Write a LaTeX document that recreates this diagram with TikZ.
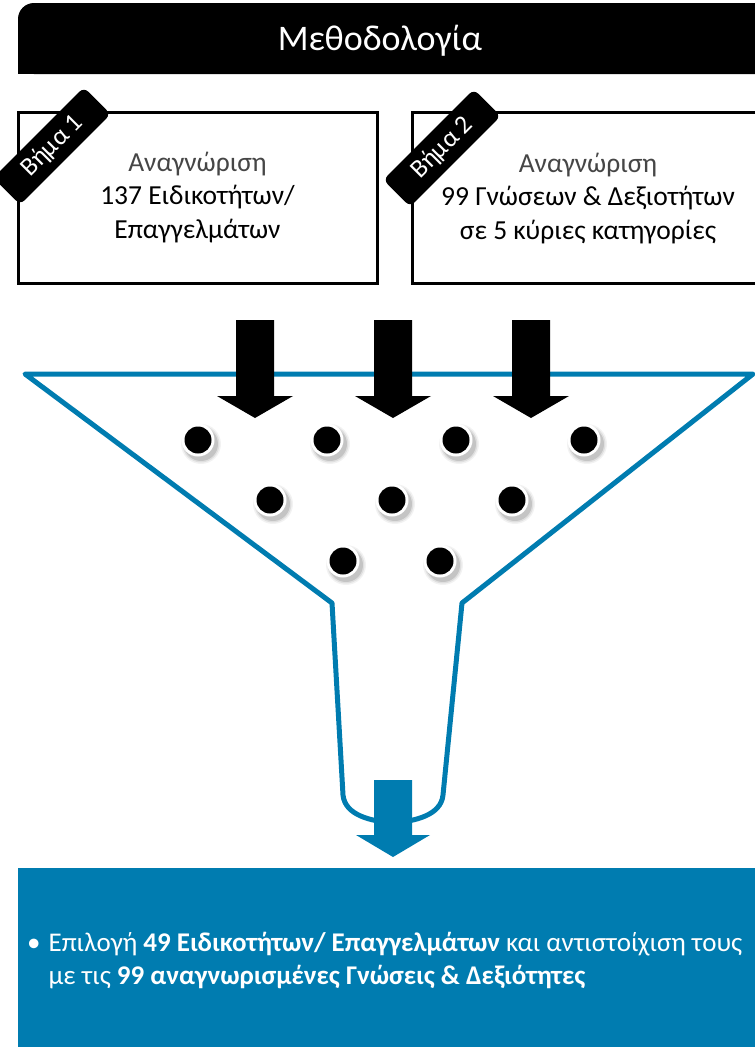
\documentclass[tikz,border=0pt]{standalone}
\usepackage{fontspec}
\setmainfont{Carlito}
\definecolor{funnelblue}{RGB}{0,124,176}
\definecolor{softgray}{RGB}{70,70,70}
\tikzset{
  stepbox/.style={draw=black, line width=3pt, minimum width=359pt, minimum height=171pt, inner sep=0pt},
  steptext/.style={align=center, font=\fontsize{27.5}{33.5}\selectfont, text=black, inner sep=0pt},
  steptag/.style={fill=black, rounded corners=6pt, text=white, font=\fontsize{26}{26}\selectfont, rotate=45, minimum width=128pt, minimum height=38pt, inner sep=0pt},
  downarrow/.style={fill=black},
  funnelline/.style={draw=funnelblue, line width=5pt, line join=round},
}
\newcommand{\funneldot}[2]{%
  \foreach \rr/\op in {20/0.05,18.5/0.08,17/0.12}{\fill[black,opacity=\op] (#1+3,#2+4) circle[radius=\rr];}
  \fill[white] (#1,#2) circle[radius=16.5];
  \fill[black] (#1,#2) circle[radius=13.5];
}
\begin{document}
\begin{tikzpicture}[x=1pt,y=-1pt]
\useasboundingbox (0,0) rectangle (755,1047);
\clip (0,0) rectangle (755,1047);
% header
\fill[black, rounded corners=16pt] (18,3) rectangle (800,74);
\fill[black] (18,40) rectangle (60,74);
\node[text=white, font=\fontsize{36}{40}\selectfont] (title) at (380,41) {Μεθοδολογία};
% step boxes
\node[stepbox, steptext] (box1) at (197.5,197.5) {{\color{softgray}Αναγνώριση}\\137 Ειδικοτήτων/\\Επαγγελμάτων};
\draw[black, line width=3pt] (412,112) rectangle (800,283);
\node[steptext] (box2) at (588,198.5) {{\color{softgray}Αναγνώριση}\\99 Γνώσεων \& Δεξιοτήτων\\σε 5 κύριες κατηγορίες};
\node[steptag] (tag1) at (52,146) {Βήμα 1};
\node[steptag] (tag2) at (442,148) {Βήμα 2};
% funnel
\draw[funnelline] (25,374) -- (753,374) -- (462,603) -- (443,795)
   .. controls (441,815) and (416,821) .. (393,823)
   .. controls (370,821) and (345,815) .. (343,795) -- (332,603) -- cycle;
% black arrows
\foreach \cx in {255,393,531}{
  \fill[downarrow] (\cx-19,320) -- (\cx+19,320) -- (\cx+19,396) -- (\cx+38,396) -- (\cx,418) -- (\cx-38,396) -- (\cx-19,396) -- cycle;
}
% dots
\funneldot{198}{440}\funneldot{327}{440}\funneldot{456}{440}\funneldot{584}{440}
\funneldot{270}{500}\funneldot{392}{500}\funneldot{512}{500}
\funneldot{343}{561}\funneldot{440}{561}
% blue arrow
\fill[funnelblue] (374,780) -- (412,780) -- (412,835) -- (430,835) -- (393,857) -- (356,835) -- (374,835) -- cycle;
% result box
\fill[funnelblue] (18,868) rectangle (800,1060);
\node[anchor=west, text=white, font=\fontsize{27}{33}\selectfont, inner sep=0pt] (result) at (27,961.5)
 {\begin{tabular}{@{}l@{\hspace{8pt}}l@{}}•&Επιλογή \textbf{49 Ειδικοτήτων/ Επαγγελμάτων} και αντιστοίχιση τους\\ &με τις \textbf{99 αναγνωρισμένες Γνώσεις \& Δεξιότητες}\end{tabular}};
\end{tikzpicture}
\end{document}
